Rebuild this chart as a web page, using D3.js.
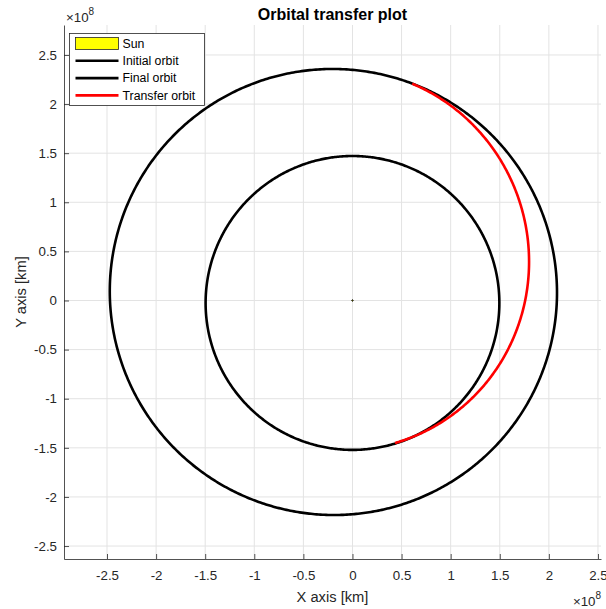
<!DOCTYPE html>
<html>
<head>
<meta charset="utf-8">
<script src="https://cdn.jsdelivr.net/npm/d3@7"></script>
<style>
  body { margin: 0; background: #fff; }
  text { font-family: "Liberation Sans", Arial, sans-serif; }
</style>
</head>
<body>
<div id="chart"></div>
<script>
// Axis limits and ticks (km)
const xLimits = [-2.938e8, 2.531e8];
const yLimits = [-2.632e8, 2.805e8];
const xTicks = [-2.5, -2, -1.5, -1, -0.5, 0, 0.5, 1, 1.5, 2, 2.5];
const yTicks = [-2.5, -2, -1.5, -1, -0.5, 0, 0.5, 1, 1.5, 2, 2.5];
const exponent = 8;

// Sun
const sunRadius = 6.96e5;

// Orbits as conics around the Sun: semi-latus rectum, eccentricity, periapsis angle
const orbitNames = ["Initial orbit", "Final orbit", "Transfer orbit"];
const orbitP = [1.4956e8, 2.2591e8, 1.847e8];
const orbitE = [0.0167, 0.0934, 0.2203];
const orbitOmega = [90, -24, -76.8];
const orbitStart = [0, 0, -73.4];
const orbitEnd = [360, 360, 74.4];
const orbitColors = ["#000000", "#000000", "#ff0000"];

const legendNames = ["Sun", "Initial orbit", "Final orbit", "Transfer orbit"];

// SVG setup
const W = 606, H = 609;
const margin = { top: 25, right: 5, bottom: 50, left: 64 };
const width = W - margin.left - margin.right;
const height = H - margin.top - margin.bottom - 0;

const svg = d3.select("#chart")
    .append("svg")
    .attr("width", W)
    .attr("height", H);

const g = svg.append("g")
    .attr("transform", `translate(${margin.left},${margin.top})`);

const plotH = 534;

const x = d3.scaleLinear().domain(xLimits).range([0, width]);
const y = d3.scaleLinear().domain(yLimits).range([plotH, 0]);

const fmt = d => String(d);

// Grid
g.append("g")
    .selectAll("line")
    .data(xTicks)
    .enter()
    .append("line")
    .attr("x1", d => x(d * 10 ** exponent))
    .attr("x2", d => x(d * 10 ** exponent))
    .attr("y1", 0)
    .attr("y2", plotH)
    .attr("stroke", "#e3e3e3");

g.append("g")
    .selectAll("line")
    .data(yTicks)
    .enter()
    .append("line")
    .attr("y1", d => y(d * 10 ** exponent))
    .attr("y2", d => y(d * 10 ** exponent))
    .attr("x1", 0)
    .attr("x2", width)
    .attr("stroke", "#e3e3e3");

// Orbits
const line = d3.line()
    .x(d => x(d[0]))
    .y(d => y(d[1]));

orbitNames.forEach((name, i) => {
    const pts = d3.range(orbitStart[i], orbitEnd[i] + 0.25, 0.5).map(t => {
        const th = t * Math.PI / 180;
        const r = orbitP[i] / (1 + orbitE[i] * Math.cos(th - orbitOmega[i] * Math.PI / 180));
        return [r * Math.cos(th), r * Math.sin(th)];
    });
    g.append("path")
        .datum(pts)
        .attr("d", line)
        .attr("fill", "none")
        .attr("stroke", orbitColors[i])
        .attr("stroke-width", 2.6);
});

// Sun
g.append("circle")
    .attr("cx", x(0))
    .attr("cy", y(0))
    .attr("r", x(sunRadius) - x(0))
    .attr("fill", "#ffff00")
    .attr("stroke", "#000")
    .attr("stroke-width", 1);

// Axes
const xAxis = g.append("g")
    .attr("transform", `translate(0,${plotH})`)
    .call(d3.axisBottom(x)
        .tickValues(xTicks.map(d => d * 10 ** exponent))
        .tickFormat(d => fmt(d / 10 ** exponent))
        .tickSizeInner(-5)
        .tickSizeOuter(0)
        .tickPadding(12));

const yAxis = g.append("g")
    .call(d3.axisLeft(y)
        .tickValues(yTicks.map(d => d * 10 ** exponent))
        .tickFormat(d => fmt(d / 10 ** exponent))
        .tickSizeInner(-5)
        .tickSizeOuter(0)
        .tickPadding(7));

[xAxis, yAxis].forEach(a => {
    a.select(".domain").attr("stroke", "#262626").attr("stroke-width", 0.8);
    a.selectAll(".tick line").attr("stroke", "#262626").attr("stroke-width", 0.8);
    a.selectAll(".tick text")
        .attr("fill", "#262626")
        .style("font-size", "13.3px")
        .style("font-family", "'Liberation Sans', Arial, sans-serif");
});

// Exponent labels
const expTop = svg.append("text")
    .attr("x", 66)
    .attr("y", 22)
    .attr("fill", "#262626")
    .style("font-size", "13.3px");
expTop.append("tspan").text("\u00d710");
expTop.append("tspan").attr("dy", -7).style("font-size", "10px").text(exponent);

const expBot = svg.append("text")
    .attr("x", 601)
    .attr("y", 606)
    .attr("text-anchor", "end")
    .attr("fill", "#262626")
    .style("font-size", "13.3px");
expBot.append("tspan").text("\u00d710");
expBot.append("tspan").attr("dy", -7).style("font-size", "10px").text(exponent);

// Labels
svg.append("text")
    .attr("x", margin.left + width / 2)
    .attr("y", 602)
    .attr("text-anchor", "middle")
    .attr("fill", "#262626")
    .style("font-size", "14.7px")
    .text("X axis [km]");

svg.append("text")
    .attr("transform", "rotate(-90)")
    .attr("x", -(margin.top + plotH / 2))
    .attr("y", 26)
    .attr("text-anchor", "middle")
    .attr("fill", "#262626")
    .style("font-size", "14.7px")
    .text("Y axis [km]");

svg.append("text")
    .attr("x", margin.left + width / 2)
    .attr("y", 19.5)
    .attr("text-anchor", "middle")
    .attr("fill", "#000")
    .style("font-size", "16px")
    .style("font-weight", "bold")
    .text("Orbital transfer plot");

// Legend
const legend = svg.append("g")
    .attr("transform", "translate(69.5,33.5)");

legend.append("rect")
    .attr("width", 135)
    .attr("height", 72)
    .attr("fill", "#fff")
    .attr("stroke", "#262626")
    .attr("stroke-width", 0.8);

legendNames.forEach((name, i) => {
    const cy = 10 + i * 17.3;
    if (i === 0) {
        legend.append("rect")
            .attr("x", 6)
            .attr("y", cy - 6)
            .attr("width", 43)
            .attr("height", 12)
            .attr("fill", "#ffff00")
            .attr("stroke", "#262626")
            .attr("stroke-width", 0.8);
    } else {
        legend.append("line")
            .attr("x1", 6)
            .attr("x2", 49)
            .attr("y1", cy)
            .attr("y2", cy)
            .attr("stroke", orbitColors[i - 1])
            .attr("stroke-width", 2.6);
    }
    legend.append("text")
        .attr("x", 53)
        .attr("y", cy + 4.3)
        .attr("fill", "#000")
        .style("font-size", "12.3px")
        .text(name);
});
</script>
</body>
</html>
